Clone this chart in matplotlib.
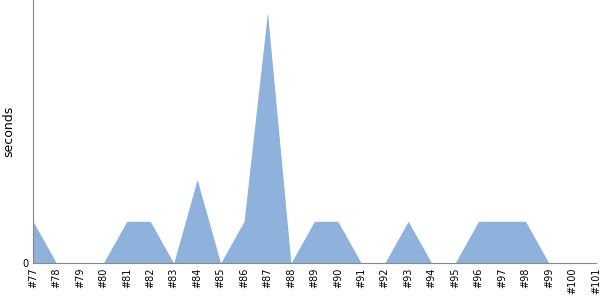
import matplotlib
matplotlib.use("Agg")
import matplotlib.pyplot as plt

# build labels and durations (seconds)
builds = [f"#{n}" for n in range(77, 102)]
seconds = [1, 0, 0, 0, 1, 1, 0, 2, 0, 1, 6, 0, 1, 1, 0, 0, 1, 0, 0, 1, 1, 1, 0, 0, 0]

fig = plt.figure(figsize=(6, 3), dpi=100)
ax = fig.add_axes([0.055, 0.123, 0.938, 0.877])

x = list(range(len(builds)))
ax.fill_between(x, seconds, 0, color="#8fb2dc", linewidth=0)

ax.set_xlim(0, len(builds) - 1)
ax.set_ylim(0, 6.29)
ax.set_yticks([0])
ax.set_xticks(x)
ax.set_xticklabels(builds, rotation=90, fontsize=7)
ax.tick_params(axis="both", length=0, pad=3, labelsize=7)
ax.set_ylabel("seconds", fontsize=9, labelpad=5)

for side in ["top", "right"]:
    ax.spines[side].set_visible(False)
for side in ["left", "bottom"]:
    ax.spines[side].set_color("#888888")

fig.savefig("out.png", dpi=100)
